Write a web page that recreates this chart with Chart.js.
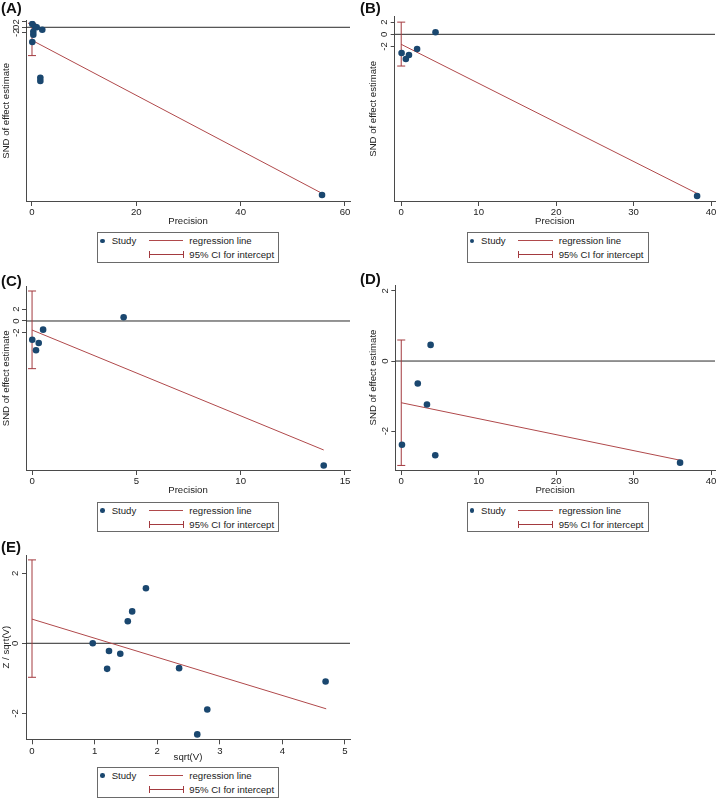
<!DOCTYPE html>
<html>
<head>
<meta charset="utf-8">
<script src="https://cdn.jsdelivr.net/npm/chart.js@4/dist/chart.umd.min.js"></script>
<style>
html,body{margin:0;padding:0;background:#fff;}
body{width:720px;height:801px;position:relative;overflow:hidden;font-family:"Liberation Sans",Arial,sans-serif;}
canvas{position:absolute;}
.lbl{position:absolute;font-weight:bold;font-size:15px;line-height:16px;color:#111;white-space:nowrap;}
.leg{position:absolute;width:180px;height:28.5px;border:1px solid #6a6a6a;background:#fff;font-size:9.6px;color:#222;z-index:2;}
.leg .t{position:absolute;line-height:11px;white-space:nowrap;}
.leg .dot{position:absolute;width:4.6px;height:4.6px;border-radius:50%;background:#1a476f;}
.leg .ln{position:absolute;height:0;border-top:1px solid #b0494b;}
.leg .cap{position:absolute;width:0;height:7px;border-left:1px solid #a33a3f;}
</style>
</head>
<body>
<script>
// ---------------- DATA ----------------
// Panel A
const aX = [0.06, 0.58, 0.9, 1.97, 0.25, 0.25, 0.06, 1.6, 1.6, 55.6];
const aY = [1.24, 0.22, 0.0, -0.9, -1.65, -2.77, -5.5, -18.9, -20.1, -62.8];
const aRegX = [0, 55.6];
const aRegY = [-4.87, -62.2];
const aCI = [-10.6, 1.5];
const aXTicks = [0, 20, 40, 60];
const aYTicks = [-2, 0, 2];
// Panel B
const bX = [0.05, 0.6, 1.0, 2.05, 4.43, 38.2];
const bY = [-3.07, -4.05, -3.4, -2.4, 0.33, -26.5];
const bRegX = [0, 38.2];
const bRegY = [-1.64, -26.1];
const bCI = [-5.2, 2.0];
const bXTicks = [0, 10, 20, 30, 40];
const bYTicks = [-2, 0, 2];
// Panel C
const cX = [0.01, 0.19, 0.32, 0.53, 4.39, 13.98];
const cY = [-3.17, -4.97, -3.73, -1.47, 0.63, -24.5];
const cRegX = [0, 13.98];
const cRegY = [-1.53, -21.86];
const cCI = [-8.08, 5.08];
const cXTicks = [0, 5, 10, 15];
const cYTicks = [-2, 0, 2];
// Panel D
const dX = [0.09, 2.13, 3.32, 3.79, 4.39, 36.0];
const dY = [-2.39, -0.64, -1.24, 0.46, -2.69, -2.9];
const dRegX = [0, 36.0];
const dRegY = [-1.19, -2.83];
const dCI = [-2.98, 0.6];
const dXTicks = [0, 10, 20, 30, 40];
const dYTicks = [-2, 0, 2];
// Panel E
const eX = [0.97, 1.2, 1.23, 1.41, 1.53, 1.6, 1.82, 2.35, 2.64, 2.8, 4.69];
const eY = [0, -0.73, -0.22, -0.3, 0.63, 0.91, 1.57, -0.71, -2.6, -1.89, -1.09];
const eRegX = [0, 4.7];
const eRegY = [0.69, -1.87];
const eCI = [-0.97, 2.38];
const eXTicks = [0, 1, 2, 3, 4, 5];
const eYTicks = [-2, 0, 2];

const legendLabels = ["Study", "regression line", "95% CI for intercept"];

// ---------------- STYLE / LAYOUT ----------------
const FONT = "'Liberation Sans', Arial, sans-serif";
const COL_PT = '#1a476f', COL_REG = '#b0494b', COL_CI = '#a33a3f', COL_AX = '#4a4a4a', COL_ZERO = '#2a2a2a', COL_TXT = '#222';

function makePanel(p) {
  const c = document.createElement('canvas');
  c.width = p.w; c.height = p.h;
  c.style.left = p.left + 'px'; c.style.top = p.top + 'px';
  c.style.width = p.w + 'px'; c.style.height = p.h + 'px';
  document.body.appendChild(c);
  const small = {family: FONT, size: 9.6};
  new Chart(c, {
    type: 'scatter',
    data: {
      datasets: [
        {type: 'scatter', data: p.x.map((v, i) => ({x: v, y: p.y[i]})), pointRadius: 3.3,
         pointBackgroundColor: COL_PT, pointBorderWidth: 0, showLine: false},
        {type: 'line', data: [{x: 0, y: p.ci[0]}, {x: 0, y: p.ci[1]}], borderColor: COL_CI, borderWidth: 1,
         pointStyle: 'line', pointRadius: 4, pointBorderColor: COL_CI, pointBorderWidth: 1, pointBackgroundColor: COL_CI},
        {type: 'line', data: p.regX.map((v, i) => ({x: v, y: p.regY[i]})), borderColor: COL_REG, borderWidth: 1, pointRadius: 0},
        {type: 'line', data: [{x: p.xMin, y: 0}, {x: p.xMax, y: 0}], borderColor: COL_ZERO, borderWidth: 1, pointRadius: 0}
      ]
    },
    options: {
      responsive: false, animation: false, devicePixelRatio: 1, events: [],
      layout: {padding: {top: p.padTop, right: p.padRight, left: 0, bottom: 0}},
      plugins: {legend: {display: false}, tooltip: {enabled: false}},
      scales: {
        x: {
          type: 'linear', min: p.xMin, max: p.xMax,
          afterBuildTicks: ax => { ax.ticks = p.xTicks.map(v => ({value: v})); },
          afterFit: ax => { ax.height = p.xAxisH; },
          grid: {display: true, drawOnChartArea: false, drawTicks: true, tickLength: 5, color: COL_AX, lineWidth: 1},
          border: {display: true, color: COL_AX, width: 1},
          ticks: {autoSkip: false, minRotation: 0, maxRotation: 0, padding: 1, color: COL_TXT, font: small, callback: v => String(v)},
          title: {display: true, text: p.xTitle, color: COL_TXT, font: small, padding: {top: 0, bottom: p.xTitlePad}}
        },
        y: {
          type: 'linear', min: p.yMin, max: p.yMax,
          afterBuildTicks: ax => { ax.ticks = p.yTicks.map(v => ({value: v})); },
          afterFit: ax => { ax.width = p.yAxisW; },
          grid: {display: true, drawOnChartArea: false, drawTicks: true, tickLength: 4, color: COL_AX, lineWidth: 1},
          border: {display: true, color: COL_AX, width: 1},
          ticks: {autoSkip: false, minRotation: 90, maxRotation: 90, crossAlign: 'center', padding: p.yTickPad, color: COL_TXT, font: small, callback: v => String(v)},
          title: {display: true, text: p.yTitle, color: COL_TXT, font: small, padding: {top: p.yTitlePad, bottom: 0}}
        }
      }
    }
  });
}

function makeLegend(left, top) {
  const d = document.createElement('div');
  d.className = 'leg';
  d.style.left = left + 'px'; d.style.top = top + 'px';
  const r1 = 7.7, r2 = 21.7;
  d.innerHTML =
    `<span class="dot" style="left:${4.4 - 2.3}px;top:${r1 - 2.3}px"></span>` +
    `<span class="t" style="left:13.4px;top:${r1 - 5.5}px">${legendLabels[0]}</span>` +
    `<span class="ln" style="left:50.7px;width:34.3px;top:${r1 - 0.5}px"></span>` +
    `<span class="t" style="left:91px;top:${r1 - 5.5}px">${legendLabels[1]}</span>` +
    `<span class="ln" style="left:50.7px;width:34.3px;top:${r2 - 0.5}px;border-top-color:#a33a3f"></span>` +
    `<span class="cap" style="left:50.7px;top:${r2 - 3.5}px"></span>` +
    `<span class="cap" style="left:84.5px;top:${r2 - 3.5}px"></span>` +
    `<span class="t" style="left:91px;top:${r2 - 5.5}px">${legendLabels[2]}</span>`;
  document.body.appendChild(d);
}

function makeLabel(text, left, top) {
  const d = document.createElement('div');
  d.className = 'lbl'; d.textContent = text;
  d.style.left = left + 'px'; d.style.top = top + 'px';
  document.body.appendChild(d);
}

const SND = 'SND of effect estimate';

makePanel({left: 0, top: 0, w: 360, h: 229, padTop: 20.7, padRight: 10, yAxisW: 26, xAxisH: 28, xTitlePad: 2.2,
  yTitlePad: 0.5, yTickPad: 1.5, xMin: -1.15, xMax: 60.96, yMin: -65.06, yMax: 2.47,
  x: aX, y: aY, regX: aRegX, regY: aRegY, ci: aCI, xTicks: aXTicks, yTicks: aYTicks, xTitle: 'Precision', yTitle: SND});
makePanel({left: 360, top: 0, w: 360, h: 229, padTop: 16.7, padRight: 2, yAxisW: 34.7, xAxisH: 28, xTitlePad: 2.2,
  yTitlePad: 7.5, yTickPad: 2.5, xMin: -0.84, xMax: 40.51, yMin: -27.33, yMax: 2.89,
  x: bX, y: bY, regX: bRegX, regY: bRegY, ci: bCI, xTicks: bXTicks, yTicks: bYTicks, xTitle: 'Precision', yTitle: SND});
makePanel({left: 0, top: 265, w: 360, h: 233, padTop: 21.7, padRight: 10, yAxisW: 26, xAxisH: 28, xTitlePad: 2.2,
  yTitlePad: 0.5, yTickPad: 1.5, xMin: -0.29, xMax: 15.24, yMin: -25.25, yMax: 5.81,
  x: cX, y: cY, regX: cRegX, regY: cRegY, ci: cCI, xTicks: cXTicks, yTicks: cYTicks, xTitle: 'Precision', yTitle: SND});
makePanel({left: 360, top: 265, w: 360, h: 233, padTop: 20, padRight: 2, yAxisW: 35.3, xAxisH: 28, xTitlePad: 2.2,
  yTitlePad: 7.5, yTickPad: 1.5, xMin: -0.77, xMax: 40.51, yMin: -3.11, yMax: 2.17,
  x: dX, y: dY, regX: dRegX, regY: dRegY, ci: dCI, xTicks: dXTicks, yTicks: dYTicks, xTitle: 'Precision', yTitle: SND});
makePanel({left: 0, top: 535, w: 360, h: 232, padTop: 20, padRight: 10, yAxisW: 26, xAxisH: 27.7, xTitlePad: 3.5,
  yTitlePad: 0.5, yTickPad: 2.5, xMin: -0.096, xMax: 5.08, yMin: -2.74, yMax: 2.52,
  x: eX, y: eY, regX: eRegX, regY: eRegY, ci: eCI, xTicks: eXTicks, yTicks: eYTicks, xTitle: 'sqrt(V)', yTitle: 'Z / sqrt(V)'});

makeLegend(97.3, 232.3);
makeLegend(466.7, 232.3);
makeLegend(97.3, 501.7);
makeLegend(466.7, 501.7);
makeLegend(97.3, 767);

makeLabel('(A)', 1, 0);
makeLabel('(B)', 360, 0);
makeLabel('(C)', 1, 273);
makeLabel('(D)', 360, 271);
makeLabel('(E)', 1, 538.5);
</script>
</body>
</html>
